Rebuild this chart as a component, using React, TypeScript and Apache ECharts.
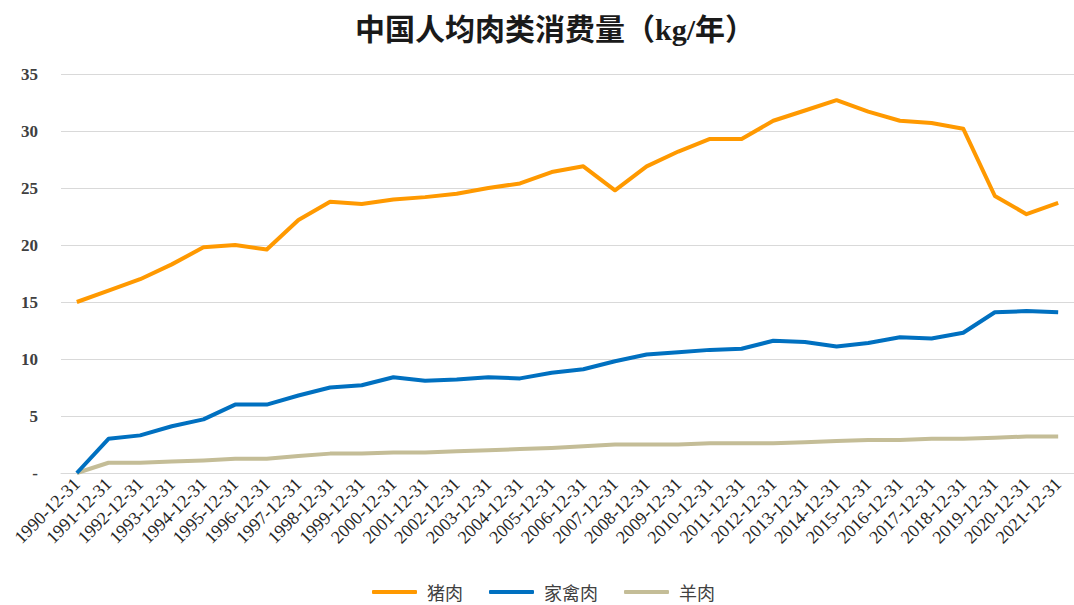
import React, { useEffect, useRef } from "react";
import * as echarts from "echarts";

const years = [
  1990, 1991, 1992, 1993, 1994, 1995, 1996, 1997, 1998, 1999, 2000, 2001, 2002, 2003, 2004, 2005,
  2006, 2007, 2008, 2009, 2010, 2011, 2012, 2013, 2014, 2015, 2016, 2017, 2018, 2019, 2020, 2021,
];
const categories = years.map((y) => `${y}-12-31`);

const pork = [
  15.0, 16.0, 17.0, 18.3, 19.8, 20.0, 19.6, 22.2, 23.8, 23.6, 24.0, 24.2, 24.5, 25.0, 25.4, 26.4,
  26.9, 24.8, 26.9, 28.2, 29.3, 29.3, 30.9, 31.8, 32.7, 31.7, 30.9, 30.7, 30.2, 24.3, 22.7, 23.7,
];
const poultry = [
  0, 3.0, 3.3, 4.1, 4.7, 6.0, 6.0, 6.8, 7.5, 7.7, 8.4, 8.1, 8.2, 8.4, 8.3, 8.8,
  9.1, 9.8, 10.4, 10.6, 10.8, 10.9, 11.6, 11.5, 11.1, 11.4, 11.9, 11.8, 12.3, 14.1, 14.2, 14.1,
];
const mutton = [
  0, 0.9, 0.9, 1.0, 1.1, 1.25, 1.25, 1.5, 1.7, 1.7, 1.8, 1.8, 1.9, 2.0, 2.1, 2.2,
  2.35, 2.5, 2.5, 2.5, 2.6, 2.6, 2.6, 2.7, 2.8, 2.9, 2.9, 3.0, 3.0, 3.1, 3.2, 3.2,
];
const yTicks = { min: 0, max: 35, interval: 5 };

const seriesNames = ["猪肉", "家禽肉", "羊肉"];
const seriesColors = ["#FF9900", "#0070C0", "#C4BD97"];

export default function App() {
  const ref = useRef<HTMLDivElement>(null);
  useEffect(() => {
    if (!ref.current) return;
    const chart = echarts.init(ref.current, undefined, { renderer: "svg" });
    const data = [pork, poultry, mutton];
    chart.setOption({
      animation: false,
      backgroundColor: "#ffffff",
      title: {
        text: "中国人均肉类消费量（kg/年）",
        left: 350,
        top: 9,
        textStyle: {
          fontFamily: "'Liberation Serif', 'Noto Sans CJK SC', serif",
          fontWeight: "bold",
          fontSize: 30,
          color: "#1a1a1a",
        },
      },
      legend: {
        bottom: 4,
        left: 372,
        itemWidth: 45,
        itemHeight: 4,
        itemGap: 26,
        icon: "roundRect",
        data: seriesNames,
        padding: 0,
        textStyle: {
          fontFamily: "'Noto Sans CJK SC', sans-serif",
          fontSize: 18,
          lineHeight: 18,
          color: "#404040",
          padding: [0, 0, 0, 5],
        },
      },
      grid: {
        left: 61,
        top: 74,
        width: 1019,
        height: 399,
        containLabel: false,
      },
      xAxis: {
        type: "category",
        data: categories,
        boundaryGap: true,
        axisLine: { show: true, lineStyle: { color: "#D9D9D9", width: 1 } },
        axisTick: { show: false },
        axisLabel: {
          interval: 0,
          rotate: 45,
          margin: 8,
          fontFamily: "'Liberation Serif', serif",
          fontSize: 18,
          color: "#262626",
        },
      },
      yAxis: {
        type: "value",
        min: yTicks.min,
        max: yTicks.max,
        interval: yTicks.interval,
        axisLine: { show: false },
        axisTick: { show: false },
        splitLine: { lineStyle: { color: "#D9D9D9", width: 1 } },
        axisLabel: {
          margin: 23,
          fontFamily: "'Liberation Serif', serif",
          fontWeight: "bold",
          fontSize: 17,
          color: "#404040",
          formatter: (v: number) => (v === 0 ? "-" : String(v)),
        },
      },
      series: seriesNames.map((name, i) => ({
        name,
        type: "line",
        data: data[i],
        symbol: "none",
        color: seriesColors[i],
        lineStyle: { width: 4, color: seriesColors[i], join: "round" },
        z: 3 - i,
      })),
    });
    return () => chart.dispose();
  }, []);
  return (
    <div
      ref={ref}
      style={{ position: "fixed", left: 0, top: 0, width: 1074, height: 605 }}
    />
  );
}
